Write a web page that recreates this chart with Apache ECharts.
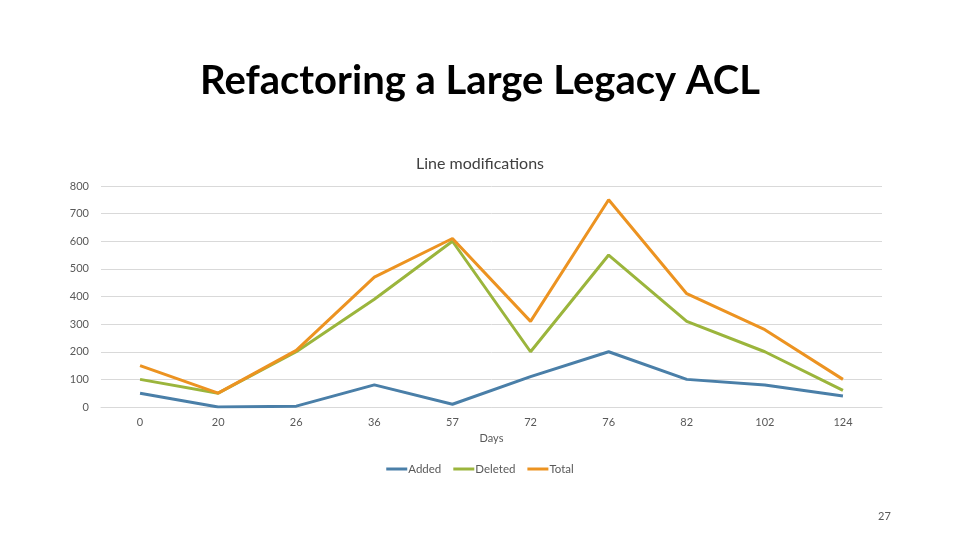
<!DOCTYPE html>
<html><head><meta charset="utf-8">
<script src="https://cdn.jsdelivr.net/npm/echarts@6/dist/echarts.min.js"></script>
<style>html,body{margin:0;padding:0;background:#fff}#c{width:960px;height:540px}</style>
</head><body><div id="c"></div>
<script>
const days = ['0','20','26','36','57','72','76','82','102','124'];
const added = [50, 0, 3, 80, 10, 110, 200, 100, 80, 40];
const deleted = [100, 50, 200, 390, 600, 200, 550, 310, 200, 60];
const total = [150, 50, 205, 470, 610, 310, 750, 410, 280, 100];
const seriesNames = ['Added','Deleted','Total'];
const colors = ['#4a7fa8','#9bb53c','#ec9321'];
const font = 'Lato, "Open Sans", sans-serif';
const chart = echarts.init(document.getElementById('c'));
chart.setOption({
  animation:false,
  color:colors,
  title:[
    {text:'Refactoring a Large Legacy ACL',left:'center',top:56,textStyle:{fontFamily:font,fontSize:40,fontWeight:'bold',color:'#000'}},
    {text:'Line modifications',left:'center',top:151,textStyle:{fontFamily:font,fontSize:16,fontWeight:'normal',color:'#404040'}},
    {text:'27',left:873,top:506,textStyle:{fontFamily:font,fontSize:11,fontWeight:'normal',color:'#595959'}}
  ],
  grid:{left:101,right:78,top:186,bottom:133},
  legend:{bottom:60,left:'center',itemWidth:21,itemHeight:3,itemGap:12,icon:'rect',
    textStyle:{fontFamily:font,fontSize:11.5,color:'#595959',padding:[0,0,0,-4]},data:seriesNames},
  xAxis:{type:'category',data:days,boundaryGap:true,name:'Days',nameLocation:'middle',nameGap:26,
    nameTextStyle:{fontFamily:font,fontSize:11,color:'#595959'},
    axisLine:{show:true,lineStyle:{color:'#d9d9d9'}},axisTick:{show:false},
    axisLabel:{fontFamily:font,fontSize:11,color:'#595959',margin:10}},
  yAxis:{type:'value',min:0,max:800,interval:100,
    axisLine:{show:false},axisTick:{show:false},
    axisLabel:{fontFamily:font,fontSize:11,color:'#595959',margin:12},
    splitLine:{lineStyle:{color:'#d9d9d9'}}},
  series:[
    {name:'Added',type:'line',data:added,showSymbol:false,lineStyle:{width:3}},
    {name:'Deleted',type:'line',data:deleted,showSymbol:false,lineStyle:{width:3}},
    {name:'Total',type:'line',data:total,showSymbol:false,lineStyle:{width:3}}
  ]
});
</script></body></html>
